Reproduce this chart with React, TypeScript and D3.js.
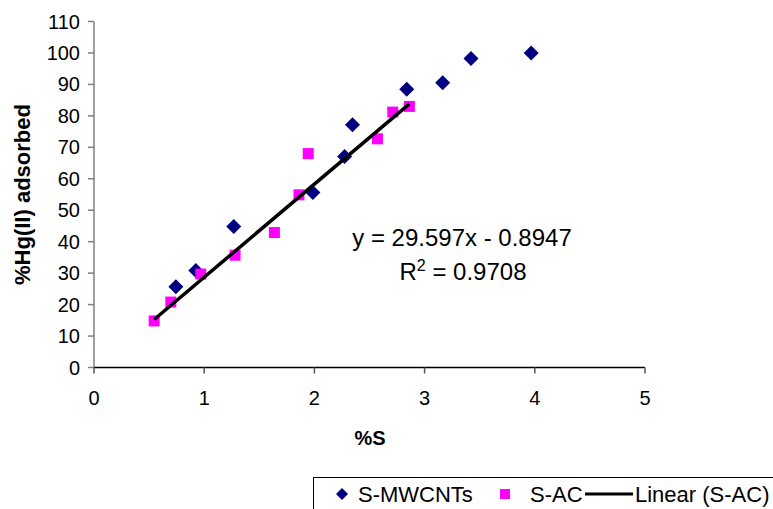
import React from "react";
import * as d3 from "d3";

const mwcntX = [0.743, 0.924, 1.268, 1.986, 2.274, 2.346, 2.838, 3.164, 3.421, 3.967];
const mwcntY = [25.7, 30.8, 44.8, 55.6, 67.1, 77.2, 88.5, 90.5, 98.2, 100.0];
const acX = [0.546, 0.697, 0.969, 1.28, 1.637, 1.86, 1.944, 2.572, 2.711, 2.862];
const acY = [14.8, 20.8, 29.7, 35.7, 42.9, 54.9, 68.0, 72.7, 81.2, 83.0];
const slope = 29.597;
const intercept = -0.8947;
const xTicks = [0, 1, 2, 3, 4, 5];
const yTicks = [0, 10, 20, 30, 40, 50, 60, 70, 80, 90, 100, 110];
const eqText = "y = 29.597x - 0.8947";
const r2Value = "0.9708";
const legendLabels = ["S-MWCNTs", "S-AC", "Linear (S-AC)"];

const W = 773;
const H = 509;
const font = "'Liberation Sans', Arial, sans-serif";

export default function App() {
  const x = d3.scaleLinear().domain([0, 5]).range([94, 645]);
  const y = d3.scaleLinear().domain([0, 110]).range([367.5, 21.5]);
  const xMin = d3.min(acX) as number;
  const xMax = d3.max(acX) as number;
  const linePath = d3.line<number>()
    .x((v) => x(v))
    .y((v) => y(slope * v + intercept))([xMin, xMax]);
  const diamond = (cx: number, cy: number, r: number) =>
    `M${cx},${cy - r}L${cx + r},${cy}L${cx},${cy + r}L${cx - r},${cy}Z`;
  const sq = 11;
  return (
    <svg width={W} height={H} style={{ position: "absolute", left: 0, top: 0, background: "#fff" }}>
      <rect x={0} y={0} width={W} height={H} fill="#fff" />
      {/* y axis */}
      <line x1={x(0)} x2={x(0)} y1={y(110)} y2={y(0)} stroke="#808080" strokeWidth={1.5} />
      {yTicks.map((t) => (
        <g key={"yt" + t}>
          <line x1={x(0) - 6} x2={x(0)} y1={y(t)} y2={y(t)} stroke="#808080" strokeWidth={1.5} />
          <text x={x(0) - 14} y={y(t)} dy="0.35em" textAnchor="end" fontFamily={font} fontSize={20} fill="#000">
            {t}
          </text>
        </g>
      ))}
      {/* x axis */}
      <line x1={x(0)} x2={x(5)} y1={y(0)} y2={y(0)} stroke="#000" strokeWidth={1.5} />
      {xTicks.map((t) => (
        <g key={"xt" + t}>
          <line x1={x(t)} x2={x(t)} y1={y(0)} y2={y(0) + 6} stroke="#555" strokeWidth={1.5} />
          <text x={x(t)} y={y(0) + 30} dy="0.35em" textAnchor="middle" fontFamily={font} fontSize={20} fill="#000">
            {t}
          </text>
        </g>
      ))}
      <text x={370} y={438} dy="0.35em" textAnchor="middle" fontFamily={font} fontSize={20} fontWeight="bold">
        %S
      </text>
      <text
        transform={`translate(22,${(y(0) + y(110)) / 2}) rotate(-90)`}
        dy="0.35em"
        textAnchor="middle"
        fontFamily={font}
        fontSize={22}
        fontWeight="bold"
      >
        %Hg(II) adsorbed
      </text>
      {/* S-MWCNTs */}
      {mwcntX.map((v, i) => (
        <path key={"m" + i} d={diamond(x(v), y(mwcntY[i]), 7.5)} fill="#000080" />
      ))}
      {/* S-AC */}
      {acX.map((v, i) => (
        <rect key={"a" + i} x={x(v) - sq / 2} y={y(acY[i]) - sq / 2} width={sq} height={sq} fill="#FF00FF" />
      ))}
      <path d={linePath || ""} stroke="#000" strokeWidth={3.5} fill="none" />
      {/* equation */}
      <text x={462} y={238} dy="0.35em" textAnchor="middle" fontFamily={font} fontSize={24}>
        {eqText}
      </text>
      <text x={463} y={272} dy="0.35em" textAnchor="middle" fontFamily={font} fontSize={24}>
        R<tspan dy="-9" fontSize={16}>2</tspan>
        <tspan dy="9">{" = " + r2Value}</tspan>
      </text>
      {/* legend */}
      <rect x={313.5} y={477.5} width={480} height={60} fill="#fff" stroke="#000" strokeWidth={1} />
      <path d={diamond(342, 494, 6)} fill="#000080" />
      <text x={358} y={494} dy="0.35em" fontFamily={font} fontSize={22}>
        {legendLabels[0]}
      </text>
      <rect x={500} y={489} width={10} height={10} fill="#FF00FF" />
      <text x={530} y={494} dy="0.35em" fontFamily={font} fontSize={22}>
        {legendLabels[1]}
      </text>
      <line x1={585} x2={633} y1={494} y2={494} stroke="#000" strokeWidth={3} />
      <text x={635} y={494} dy="0.35em" fontFamily={font} fontSize={22}>
        {legendLabels[2]}
      </text>
    </svg>
  );
}
